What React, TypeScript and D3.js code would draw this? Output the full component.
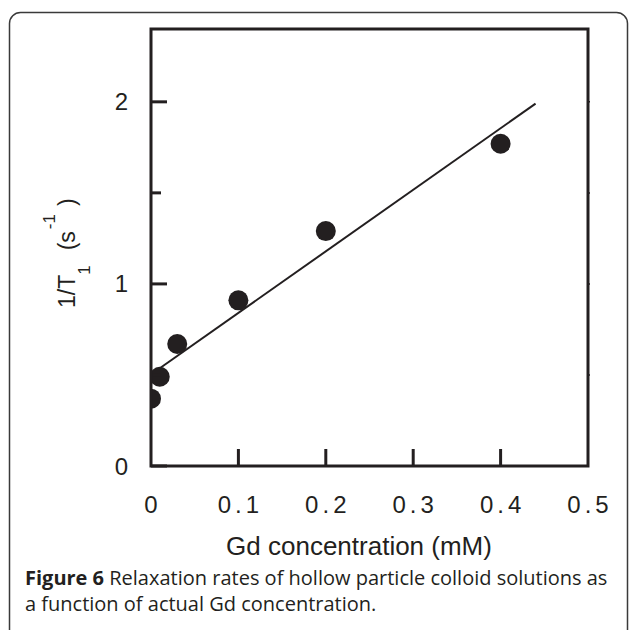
import * as d3 from "d3";
import React, { useEffect, useRef } from "react";

// measured points: Gd concentration (mM) vs 1/T1 (s^-1)
const concentration = [0, 0.01, 0.03, 0.1, 0.2, 0.4];
const relaxationRate = [0.37, 0.49, 0.67, 0.91, 1.29, 1.77];

// linear fit end points
const fitX = [0.008, 0.44];
const fitY = [0.53, 1.99];

const xTicks = [0, 0.1, 0.2, 0.3, 0.4, 0.5];
const xTickLabels = ["0", "0.1", "0.2", "0.3", "0.4", "0.5"];
const yTicks = [0, 1, 2];
const yTickLabels = ["0", "1", "2"];
const yMinorTicks = [0.5, 1.5];

const ink = "#231f20";

const App = () => {
    const svgRef = useRef(null);

    const width = 629;
    const height = 630;
    const left = 151;
    const right = 588;
    const top = 29;
    const bottom = 466;

    useEffect(() => {
        const svg = d3.select(svgRef.current);
        svg.selectAll("*").remove();

        const x = d3.scaleLinear().domain([0, 0.5]).range([left, right]);
        const y = d3.scaleLinear().domain([0, 2.4]).range([bottom, top]);

        // outer figure box
        svg.append("rect")
            .attr("x", 9.5)
            .attr("y", 12.5)
            .attr("width", 618)
            .attr("height", 660)
            .attr("rx", 11)
            .attr("fill", "none")
            .attr("stroke", "#3a3a3a")
            .attr("stroke-width", 1.5);

        svg.append("clipPath")
            .attr("id", "plot-clip")
            .append("rect")
            .attr("x", left)
            .attr("y", top)
            .attr("width", right - left)
            .attr("height", bottom - top);

        // fit line
        const line = d3.line()
            .x((d) => x(d[0]))
            .y((d) => y(d[1]));
        svg.append("path")
            .attr("d", line(fitX.map((v, i) => [v, fitY[i]])))
            .attr("fill", "none")
            .attr("stroke", ink)
            .attr("stroke-width", 2);

        // points
        svg.append("g")
            .attr("clip-path", "url(#plot-clip)")
            .selectAll("circle")
            .data(concentration)
            .enter()
            .append("circle")
            .attr("cx", (d) => x(d))
            .attr("cy", (d, i) => y(relaxationRate[i]))
            .attr("r", 10)
            .attr("fill", ink);

        // ticks
        const ticks = svg.append("g").attr("stroke", ink).attr("stroke-width", 3);
        ticks.selectAll(".xt")
            .data(xTicks.slice(1, -1))
            .enter()
            .append("line")
            .attr("x1", (d) => x(d))
            .attr("x2", (d) => x(d))
            .attr("y1", bottom)
            .attr("y2", bottom - 17);
        ticks.selectAll(".yt")
            .data(yTicks)
            .enter()
            .append("line")
            .attr("x1", left)
            .attr("x2", left + 16)
            .attr("y1", (d) => y(d))
            .attr("y2", (d) => y(d));
        ticks.selectAll(".ym")
            .data(yMinorTicks)
            .enter()
            .append("line")
            .attr("x1", left)
            .attr("x2", left + 10)
            .attr("y1", (d) => y(d))
            .attr("y2", (d) => y(d));
        // tiny ticks on right side
        svg.append("g")
            .attr("stroke", ink)
            .attr("stroke-width", 1.5)
            .selectAll("line")
            .data([0.5, 1, 1.5, 2])
            .enter()
            .append("line")
            .attr("x1", right)
            .attr("x2", right + 2)
            .attr("y1", (d) => y(d))
            .attr("y2", (d) => y(d));

        // frame
        svg.append("rect")
            .attr("x", left)
            .attr("y", top)
            .attr("width", right - left)
            .attr("height", bottom - top)
            .attr("fill", "none")
            .attr("stroke", ink)
            .attr("stroke-width", 3);

        const font = "'Liberation Sans', Arial, Helvetica, sans-serif";

        svg.selectAll(".xl")
            .data(xTicks)
            .enter()
            .append("text")
            .attr("x", (d) => x(d) + 2)
            .attr("y", 513)
            .attr("text-anchor", "middle")
            .style("font-family", font)
            .style("font-size", "24px")
            .style("letter-spacing", "4px")
            .attr("fill", ink)
            .text((d, i) => xTickLabels[i]);

        svg.selectAll(".yl")
            .data(yTicks)
            .enter()
            .append("text")
            .attr("x", 128)
            .attr("y", (d) => y(d) + 8.5)
            .attr("text-anchor", "end")
            .style("font-family", font)
            .style("font-size", "24px")
            .attr("fill", ink)
            .text((d, i) => yTickLabels[i]);

        svg.append("text")
            .attr("x", 359)
            .attr("y", 555)
            .attr("text-anchor", "middle")
            .style("font-family", font)
            .style("font-size", "26px")
            .attr("fill", ink)
            .text("Gd concentration (mM)");

        // y title, rotated with sub/superscripts
        const yt = svg.append("text")
            .attr("transform", "translate(75,308) rotate(-90)")
            .style("font-family", font)
            .style("font-size", "23px")
            .attr("fill", ink);
        yt.append("tspan").text("1/T");
        yt.append("tspan").attr("dy", 15).style("font-size", "17px").text("1");
        yt.append("tspan").attr("dy", -15).attr("dx", 15).text("(s");
        yt.append("tspan").attr("dy", -20).attr("dx", 2).style("font-size", "17px").text("-1");
        yt.append("tspan").attr("dy", 20).attr("dx", 8).text(")");

        // caption
        const capFont = "'Open Sans', 'Noto Sans', sans-serif";
        const c1 = svg.append("text")
            .attr("x", 25)
            .attr("y", 585)
            .style("font-family", capFont)
            .style("font-size", "20px")
            .attr("fill", ink);
        c1.append("tspan").style("font-weight", "bold").text("Figure 6 ");
        c1.append("tspan").text("Relaxation rates of hollow particle colloid solutions as");
        svg.append("text")
            .attr("x", 25)
            .attr("y", 611)
            .style("font-family", capFont)
            .style("font-size", "20px")
            .attr("fill", ink)
            .text("a function of actual Gd concentration.");
    }, []);

    return (
        <svg
            ref={svgRef}
            width={width}
            height={height}
            style={{ position: "absolute", left: 0, top: 0, background: "#fff" }}
        />
    );
};

export default App;
